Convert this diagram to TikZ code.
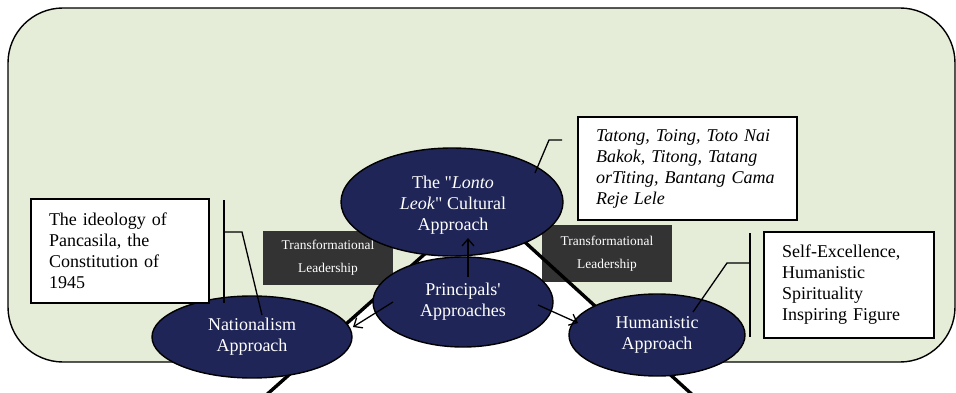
\documentclass[tikz,border=0pt]{standalone}
\usepackage{fontspec}
\setmainfont{Liberation Serif}[Ligatures=TeXOff]
\usetikzlibrary{shapes.geometric,arrows.meta}
\definecolor{panelgreen}{HTML}{E5ECD8}
\definecolor{navy}{HTML}{1F2557}
\definecolor{darkgrey}{HTML}{333333}
\tikzset{
  approach/.style={ellipse, draw=black, line width=1.4pt, fill=navy, text=white,
    inner sep=0pt, align=center, font=\fontsize{18}{21}\selectfont},
  approachtext/.style={text=white, inner sep=0pt, align=center, font=\fontsize{18}{21}\selectfont},
  notebox/.style={rectangle, draw=black, line width=1.4pt, fill=white, inner sep=0pt,
    align=left, font=\fontsize{18}{21}\selectfont},
  tagbox/.style={rectangle, fill=darkgrey, text=white, inner sep=0pt, align=center,
    minimum width=130pt, font=\fontsize{13.4}{23}\selectfont},
  pillar/.style={line width=3.4pt, line join=miter},
  flow/.style={line width=1.3pt, -{Straight Barb[length=7pt,width=12pt,line width=1.3pt]}},
  callout/.style={line width=1.3pt}
}
\begin{document}
\begin{tikzpicture}[x=1pt, y=-1pt]
  \useasboundingbox (0,0) rectangle (956,393);
  \clip (0,0) rectangle (956,393);

  % rounded panel
  \draw[fill=panelgreen, line width=1.4pt, rounded corners=55pt] (8,8) rectangle (955,362);

  % white pyramid standing behind the approaches
  \coordinate (apex) at (482,203);
  \coordinate (baseL) at (227,430);
  \coordinate (baseR) at (731,430);
  \fill[white] (apex) -- (baseL) -- (baseR) -- cycle;

  % transformational leadership tags
  \node[tagbox, minimum height=54pt] (tagL) at (328,258) {Transformational\\Leadership};
  \node[tagbox, minimum height=57pt] (tagR) at (607,253.5) {Transformational\\Leadership};

  % pyramid edges
  \draw[pillar] (baseL) -- (apex) -- (baseR);

  % approaches
  \node[approach, minimum width=222pt, minimum height=108pt] (lonto) at (452,202) {};
  \node[approachtext] (lontoText) at (453,205)
    {The "\textit{Lonto}\\\textit{Leok}" Cultural\\Approach};
  \node[approach, minimum width=180pt, minimum height=90pt] (prin) at (463,302)
    {Principals'\\Approaches};
  \node[approach, minimum width=200pt, minimum height=82pt] (nat) at (252,337)
    {Nationalism\\Approach};
  \node[approach, minimum width=176pt, minimum height=82pt] (hum) at (657,335)
    {Humanistic\\Approach};

  % arrows out of the principals' approaches
  \coordinate (pUp) at (468,277);
  \coordinate (pLeft) at (393,302);
  \coordinate (pRight) at (538,305);
  \coordinate (tipUp) at (468,238);
  \coordinate (tipLeft) at (353,327);
  \coordinate (tipRight) at (578,323);
  \draw[flow] (pUp) -- (tipUp);
  \draw[flow] (pLeft) -- (tipLeft);
  \draw[flow] (pRight) -- (tipRight);

  % note boxes
  \node[notebox, minimum width=178pt, minimum height=104pt, text width=142pt] (noteL) at (120,251)
    {The ideology of\\Pancasila, the\\Constitution of\\1945};
  \node[notebox, minimum width=219pt, minimum height=103pt, text width=183pt] (noteT) at (687.5,168.5)
    {\itshape Tatong, Toing, Toto Nai\\\itshape Bakok, Titong, Tatang\\\itshape orTiting, Bantang Cama\\\itshape Reje Lele};
  \node[notebox, minimum width=170pt, minimum height=106pt, text width=134pt] (noteR) at (849,285)
    {Self-Excellence,\\Humanistic\\Spirituality\\Inspiring Figure};

  % callout brackets
  \coordinate (cLtop) at (224,200);
  \coordinate (cLbot) at (224,303);
  \coordinate (cLmid) at (224,232);
  \coordinate (cLknee) at (242,232);
  \coordinate (cLend) at (262,315);
  \draw[callout] (cLtop) -- (cLbot);
  \draw[callout] (cLmid) -- (cLknee) -- (cLend);

  \coordinate (cTend) at (535,173);
  \coordinate (cTknee) at (549,140);
  \coordinate (cTtail) at (562,140);
  \draw[callout] (cTend) -- (cTknee) -- (cTtail);

  \coordinate (cRtop) at (750,233);
  \coordinate (cRbot) at (750,337);
  \coordinate (cRmid) at (750,263);
  \coordinate (cRknee) at (727,263);
  \coordinate (cRend) at (693,312);
  \draw[callout] (cRtop) -- (cRbot);
  \draw[callout] (cRmid) -- (cRknee) -- (cRend);
\end{tikzpicture}
\end{document}
